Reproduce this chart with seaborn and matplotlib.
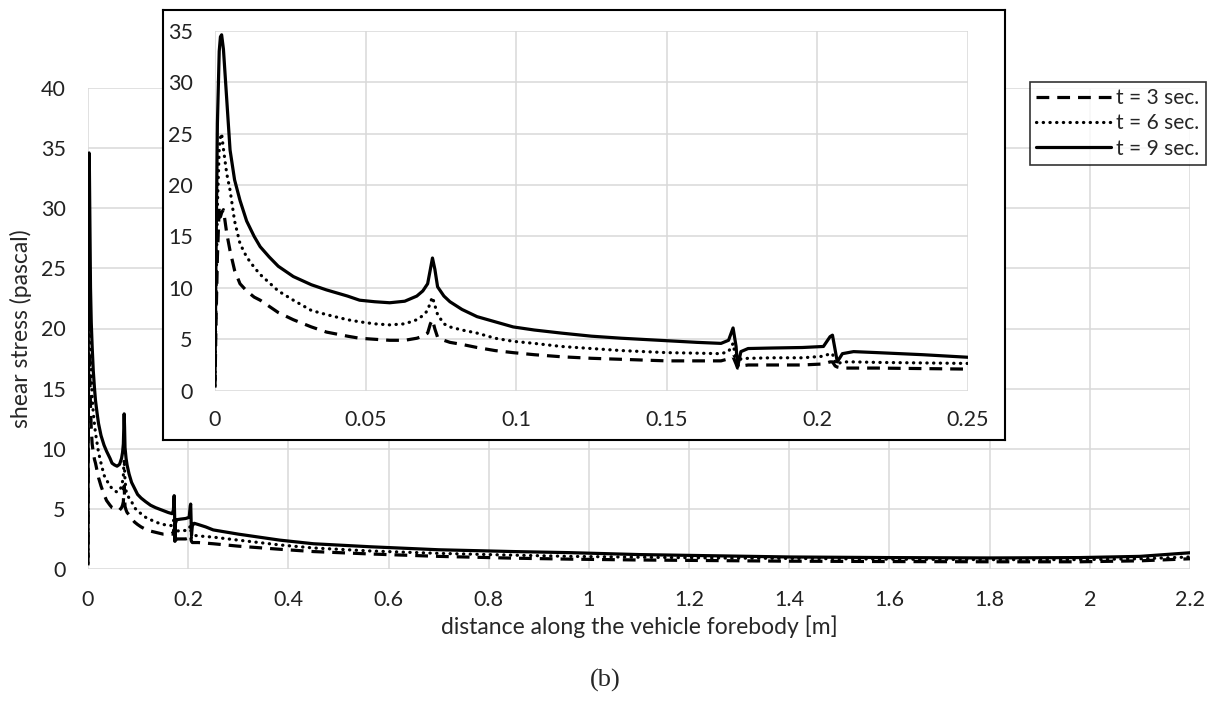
import numpy as np
import pandas as pd
import matplotlib
matplotlib.use('Agg')
import matplotlib.pyplot as plt
import seaborn as sns

# distance along the forebody [m], shared by the three curves
dist = [0, 0.0003, 0.0008, 0.0014, 0.0018, 0.0022, 0.0028, 0.0039, 0.005, 0.0065,
        0.0083, 0.0105, 0.013, 0.015, 0.018, 0.021, 0.026, 0.032, 0.037, 0.044,
        0.048, 0.053, 0.058, 0.063, 0.067, 0.069, 0.0706, 0.0715, 0.0722, 0.073,
        0.0739, 0.076, 0.078, 0.082, 0.087, 0.093, 0.099, 0.106, 0.115, 0.125,
        0.135, 0.15, 0.16, 0.168, 0.1705, 0.172, 0.173, 0.1735, 0.1746, 0.177,
        0.185, 0.195, 0.202, 0.2042, 0.205, 0.2059, 0.2066, 0.2083, 0.212, 0.22,
        0.235, 0.25, 0.3, 0.383, 0.45, 0.563, 0.7, 0.85, 0.962, 1.1,
        1.25, 1.4, 1.6, 1.8, 1.98, 2.1, 2.2]

# shear stress [Pa]
tau_t3 = [0.3, 6, 13, 17.9, 16.9, 17.3, 17.6, 15.3, 13.6, 11.7,
          10.4, 9.7, 9.1, 8.8, 8.2, 7.6, 6.9, 6.2, 5.7, 5.3,
          5.1, 5.0, 4.9, 4.9, 5.1, 5.3, 5.6, 6.5, 6.9, 6.0,
          5.2, 4.9, 4.7, 4.5, 4.2, 3.9, 3.7, 3.5, 3.3, 3.15,
          3.05, 2.9, 2.9, 2.9, 3.1, 3.3, 2.6, 2.2, 2.4, 2.5,
          2.5, 2.5, 2.6, 2.8, 2.8, 2.4, 2.3, 2.2, 2.2, 2.2,
          2.15, 2.1, 1.9, 1.64, 1.45, 1.25, 1.05, 0.9, 0.82, 0.75,
          0.7, 0.65, 0.62, 0.6, 0.6, 0.68, 0.85]

tau_t6 = [0.5, 8, 18, 23.5, 24.6, 25.0, 23.5, 21.1, 19.5, 16.5,
          14.3, 13.0, 12.0, 11.3, 10.5, 9.7, 8.8, 7.8, 7.4, 6.9,
          6.7, 6.5, 6.4, 6.5, 6.9, 7.3, 7.8, 8.6, 9.1, 8.3,
          7.4, 6.5, 6.2, 5.9, 5.6, 5.1, 4.8, 4.6, 4.3, 4.1,
          3.9, 3.7, 3.65, 3.6, 3.8, 4.6, 3.0, 2.3, 3.1, 3.15,
          3.2, 3.2, 3.35, 3.6, 3.6, 2.7, 2.6, 2.8, 2.8, 2.75,
          2.7, 2.65, 2.4, 2.0, 1.75, 1.5, 1.3, 1.15, 1.05, 0.98,
          0.92, 0.88, 0.82, 0.78, 0.78, 0.85, 1.0]

tau_t9 = [1.0, 12, 26, 33, 34.4, 34.6, 33.2, 28.3, 23.4, 20.5,
          18.5, 16.5, 15.0, 14.0, 13.0, 12.1, 11.1, 10.3, 9.8, 9.2,
          8.8, 8.65, 8.55, 8.7, 9.2, 9.7, 10.4, 11.8, 12.9, 11.8,
          10.1, 9.2, 8.65, 7.9, 7.2, 6.7, 6.2, 5.9, 5.6, 5.3,
          5.1, 4.86, 4.7, 4.6, 4.9, 6.1, 4.3, 2.3, 3.8, 4.1,
          4.15, 4.2, 4.3, 5.25, 5.4, 3.95, 2.8, 3.6, 3.8, 3.7,
          3.5, 3.25, 2.9, 2.4, 2.1, 1.85, 1.6, 1.45, 1.36, 1.2,
          1.1, 1.0, 0.95, 0.92, 0.95, 1.05, 1.35]

labels = ['t = 3 sec.', 't = 6 sec.', 't = 9 sec.']

sns.set_style('white')
plt.rcParams['font.family'] = ['Lato', 'DejaVu Sans']

W, H = 1210, 702
fig = plt.figure(figsize=(W / 100, H / 100), dpi=100)

grid_col = '#d9d9d9'
styles = [dict(linestyle=(0, (4, 2.5)), dash_capstyle='butt'),
          dict(linestyle=(0, (0.1, 2.0)), dash_capstyle='round'),
          dict(linestyle='-')]
series = [tau_t3, tau_t6, tau_t9]


def draw(ax, xlim, ylim, xticks, yticks, xfmt, pad_x, pad_y, fs):
    for tau, lab, st in zip(series, labels, styles):
        sns.lineplot(x=dist, y=tau, ax=ax, color='black', lw=2.3, label=lab,
                     estimator=None, sort=False, **st)
    ax.set_xlim(*xlim)
    ax.set_ylim(*ylim)
    ax.set_xticks(xticks)
    ax.set_xticklabels([xfmt(v) for v in xticks])
    ax.set_yticks(yticks)
    ax.grid(True, color=grid_col, lw=1.1)
    for s in ax.spines.values():
        s.set_visible(False)
    ax.tick_params(axis='x', length=0, pad=pad_x, labelsize=fs, colors='#222222')
    ax.tick_params(axis='y', length=0, pad=pad_y, labelsize=fs, colors='#222222')
    ax.set_axisbelow(True)
    if ax.get_legend() is not None:
        ax.get_legend().remove()


def fmt_main(v):
    return '{:g}'.format(round(v, 1))


def fmt_inset(v):
    return '{:g}'.format(round(v, 2))


# main axes
ax = fig.add_axes([88 / W, 1 - 569 / H, (1190 - 88) / W, (569 - 88) / H])
draw(ax, (0, 2.2), (0, 40), np.arange(0, 2.21, 0.2), np.arange(0, 41, 5),
     fmt_main, 15, 16, 15.5)
ax.set_xlabel('distance along the vehicle forebody [m]', fontsize=16.5, labelpad=4)
ax.set_ylabel('shear stress (pascal)', fontsize=16.5, labelpad=6)

# white framed box behind the inset
frame = fig.add_axes([163 / W, 1 - 440 / H, (1005 - 163) / W, (440 - 10) / H], zorder=2)
frame.set_xticks([])
frame.set_yticks([])
frame.set_facecolor('white')
for s in frame.spines.values():
    s.set_visible(True)
    s.set_color('black')
    s.set_linewidth(1.5)

# inset axes
ins = fig.add_axes([215 / W, 1 - 390.7 / H, (968 - 215) / W, (390.7 - 30.7) / H], zorder=3)
ins.patch.set_alpha(0)
draw(ins, (0, 0.25), (0, 35), np.arange(0, 0.251, 0.05), np.arange(0, 36, 5),
     fmt_inset, 14, 16, 15.5)

# legend
handles = ax.get_lines()[:3]
leg = fig.legend(handles, labels, loc='upper left',
                 bbox_to_anchor=(1030 / W, 1 - 82 / H), fontsize=15,
                 frameon=True, fancybox=False, handlelength=3.6,
                 handletextpad=0.25, borderpad=0.3, labelspacing=0.25,
                 borderaxespad=0)
leg.get_frame().set_edgecolor('black')
leg.get_frame().set_linewidth(1.2)

fig.text(605 / W, 1 - 680 / H, '(b)', ha='center', va='center',
         fontsize=19, family='Liberation Serif')

fig.savefig('out.png', dpi=100, facecolor='white')
